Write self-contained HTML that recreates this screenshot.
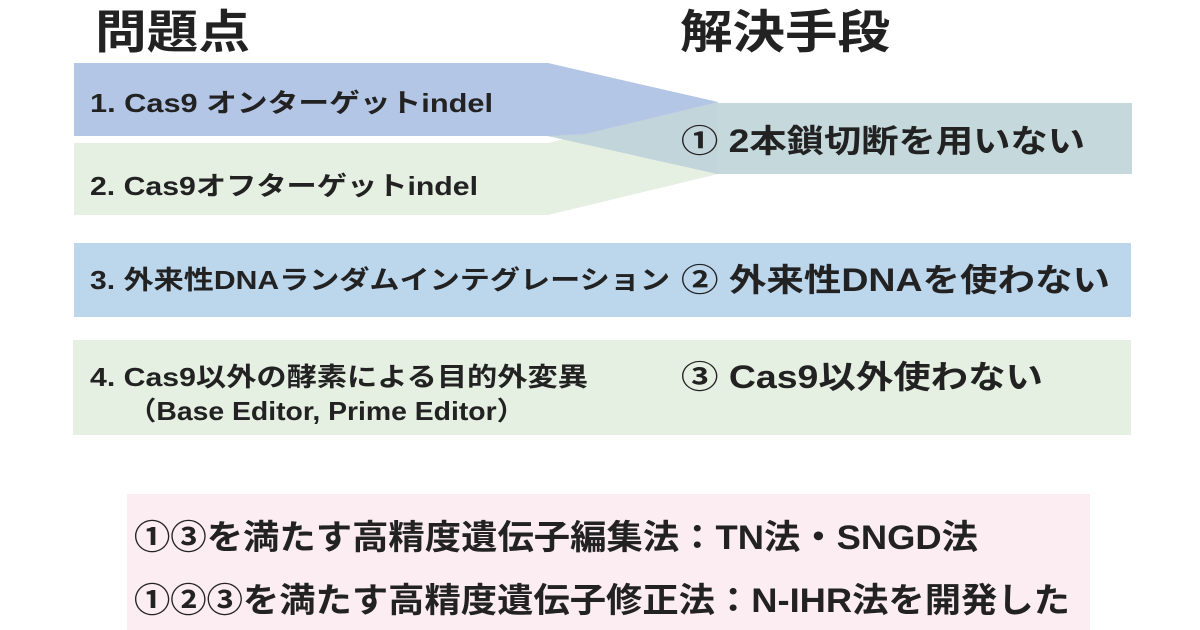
<!DOCTYPE html>
<html><head><meta charset="utf-8"><style>
html,body{margin:0;padding:0;background:#fff;}
svg{display:block;}
text{font-family:"Liberation Sans","Noto Sans CJK JP",sans-serif;fill:#222;font-weight:bold;}
</style></head><body>
<svg width="1200" height="630" viewBox="0 0 1200 630">
<rect x="74" y="63" width="474" height="73" fill="#b4c6e5"/>
<rect x="74" y="143" width="474" height="72" fill="#e5efe2"/>
<polygon points="548,143 718,102 718,174 548,215" fill="#e5efe2"/>
<polygon points="548,63 718,102 718,174 548,136" fill="#b4c6e5"/>
<polygon points="585,134 718,102 718,174 548,136" fill="#c2d5da"/>
<rect x="718" y="103" width="414" height="71" fill="#c5d8dc"/>
<rect x="74" y="243" width="1057" height="74" fill="#bcd6ec"/>
<rect x="73" y="340" width="1058" height="95" fill="#e5efe2"/>
<rect x="127" y="494" width="963" height="136" fill="#fcedf3"/>

<text x="95" y="48" font-size="46" textLength="155" lengthAdjust="spacingAndGlyphs">問題点</text>
<text x="680" y="48" font-size="46" textLength="210" lengthAdjust="spacingAndGlyphs">解決手段</text>

<text x="90" y="112" font-size="26" textLength="403" lengthAdjust="spacingAndGlyphs">1. Cas9 オンターゲットindel</text>
<text x="90" y="195" font-size="26" textLength="388" lengthAdjust="spacingAndGlyphs">2. Cas9オフターゲットindel</text>
<text x="681" y="152" font-size="32" textLength="404" lengthAdjust="spacingAndGlyphs">① 2本鎖切断を用いない</text>

<text x="90" y="289" font-size="26" textLength="580" lengthAdjust="spacingAndGlyphs">3. 外来性DNAランダムインテグレーション</text>
<text x="681" y="291" font-size="32" textLength="429" lengthAdjust="spacingAndGlyphs">② 外来性DNAを使わない</text>

<text x="90" y="386" font-size="26" textLength="498" lengthAdjust="spacingAndGlyphs">4. Cas9以外の酵素による目的外変異</text>
<text x="128" y="420" font-size="26" textLength="397" lengthAdjust="spacingAndGlyphs">（Base Editor, Prime Editor）</text>
<text x="681" y="388" font-size="32" textLength="362" lengthAdjust="spacingAndGlyphs">③ Cas9以外使わない</text>

<text x="134" y="549" font-size="34" textLength="844" lengthAdjust="spacingAndGlyphs">①③を満たす高精度遺伝子編集法：TN法・SNGD法</text>
<text x="134" y="612" font-size="34" textLength="936" lengthAdjust="spacingAndGlyphs">①②③を満たす高精度遺伝子修正法：N-IHR法を開発した</text>
</svg>
</body></html>
